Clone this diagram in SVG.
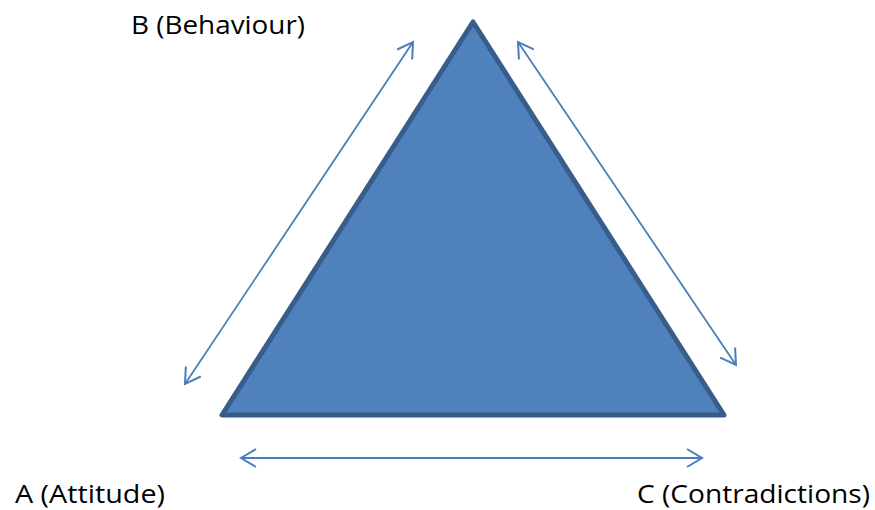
<svg xmlns="http://www.w3.org/2000/svg" width="875" height="510" viewBox="0 0 875 510">
<style>
.lbl{font-family:"Open Sans","Liberation Sans",sans-serif;font-size:26px;fill:#000}
.conn{stroke:#4A7EBB;stroke-width:1.8;fill:none;marker-start:url(#ah);marker-end:url(#ah)}
</style>
<defs>
<marker id="ah" viewBox="0 0 20 20" refX="18" refY="10" markerWidth="20" markerHeight="20" markerUnits="userSpaceOnUse" orient="auto-start-reverse">
<path d="M3,1 L18,10 L3,19" fill="none" stroke="#4A7EBB" stroke-width="2"/>
</marker>
</defs>
<rect width="875" height="510" fill="#fff"/>
<g id="triangle">
<polygon points="473,22 222,415 724,415" fill="#4F81BD" stroke="#385D8A" stroke-width="5" stroke-linejoin="round"/>
</g>
<g id="connectors">
<line class="conn" x1="185" y1="384" x2="413" y2="42"/>
<line class="conn" x1="518" y1="42" x2="736" y2="365"/>
<line class="conn" x1="241" y1="458" x2="702" y2="458"/>
</g>
<g id="B"><text class="lbl" x="131" y="34" textLength="174" lengthAdjust="spacingAndGlyphs">B (Behaviour)</text></g>
<g id="A"><text class="lbl" x="15" y="503" textLength="150" lengthAdjust="spacingAndGlyphs">A (Attitude)</text></g>
<g id="C"><text class="lbl" x="637" y="503" textLength="233" lengthAdjust="spacingAndGlyphs">C (Contradictions)</text></g>
</svg>
